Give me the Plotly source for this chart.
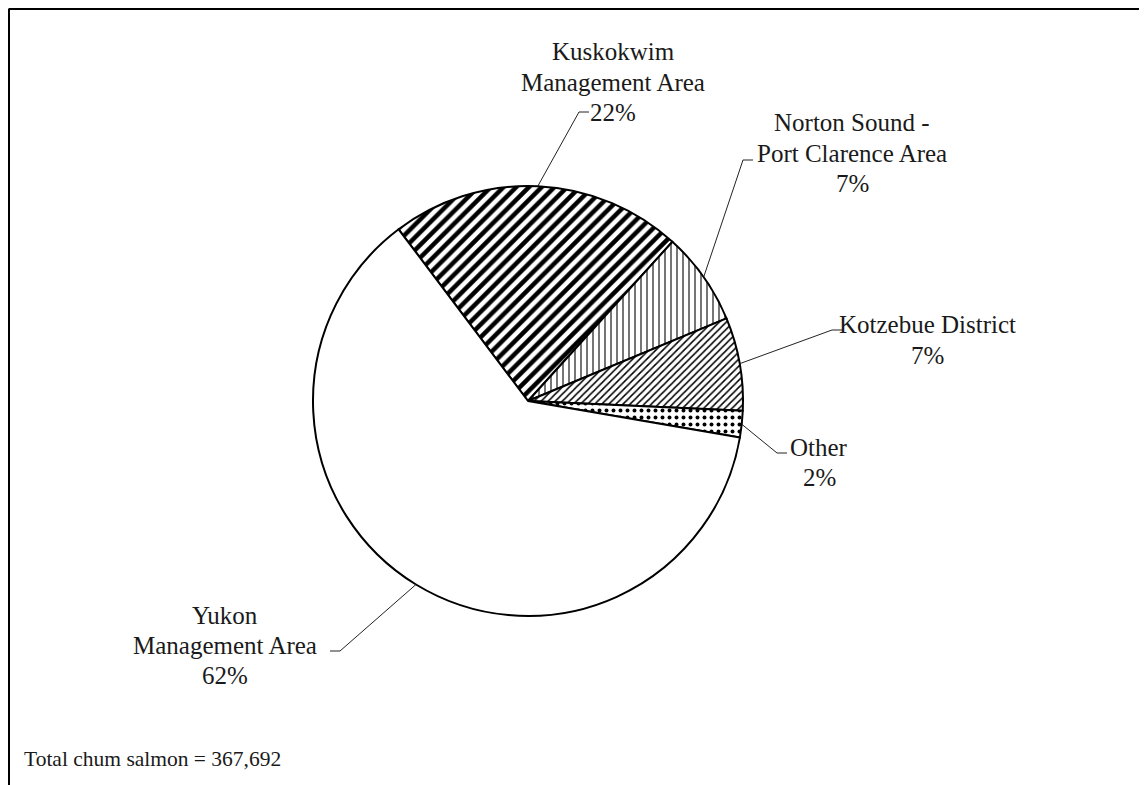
import math
import plotly.graph_objects as go

# ---------------- data ----------------
categories = ["Kuskokwim Management Area", "Norton Sound - Port Clarence Area",
              "Kotzebue District", "Other", "Yukon Management Area"]
label_lines = [["Kuskokwim", "Management Area"],
               ["Norton Sound -", "Port Clarence Area"],
               ["Kotzebue District"],
               ["Other"],
               ["Yukon", "Management Area"]]
percents = [22, 7, 7, 2, 62]
total_text = "Total chum salmon = 367,692"

# ---------------- styles / layout ----------------
OFF = 8                            # page body margin in the browser
W, H = 1147 - OFF, 785 - OFF       # figure size so it fits the window
CX, CY, R = 528, 401, 215          # pie centre and radius (page px)
ROTATION = -37                     # start of first slice, clockwise from 12 o'clock
FONT = "Liberation Serif, Times New Roman, serif"
LABEL_SIZE = 25
LINE_GAP = 30

pattern_shapes = ["/", "|", "/", ".", ""]
pattern_sizes = [9, 6, 5, 7, 8]
pattern_solid = [0.5, 0.18, 0.3, 0.25, 0.2]

# label layout: first-line centre (page px), elbow of leader (page px), tail direction
label_first = [(613, 52), (852, 123), (927, 325), (819, 447), (225, 615)]
elbows = [(579, 112), (743, 160), (832, 330), (777, 453), (340, 651)]
tail_dir = [1, 1, 1, 1, -1]
TAIL = 10


def px(x, y):
    return (x - OFF) / W, 1 - (y - OFF) / H


fig = go.Figure()
fig.add_trace(go.Pie(
    labels=categories,
    values=percents,
    sort=False,
    direction="clockwise",
    rotation=ROTATION,
    textinfo="none",
    hoverinfo="label+percent",
    showlegend=False,
    marker=dict(
        colors=["white"] * len(categories),
        line=dict(color="black", width=2),
        pattern=dict(shape=pattern_shapes, size=pattern_sizes,
                     solidity=pattern_solid, fgcolor="black",
                     bgcolor="white", fillmode="replace"),
    ),
    domain=dict(x=[px(CX - R, 0)[0], px(CX + R, 0)[0]],
                y=[px(0, CY + R)[1], px(0, CY - R)[1]]),
))

annotations = []
shapes = []
tot = sum(percents)
start = 90 - ROTATION
cum = 0
for i, (lines, pct) in enumerate(zip(label_lines, percents)):
    mid = math.radians(start - (cum + pct / 2) / tot * 360)
    cum += pct
    ax_, ay_ = CX + R * math.cos(mid), CY - R * math.sin(mid)
    ex, ey = elbows[i]
    tx = ex + tail_dir[i] * TAIL
    p0 = px(ax_, ay_)
    p1 = px(ex, ey)
    p2 = px(tx, ey)
    shapes.append(dict(type="path", xref="paper", yref="paper",
                       path=f"M {p0[0]},{p0[1]} L {p1[0]},{p1[1]} L {p2[0]},{p2[1]}",
                       line=dict(color="#222", width=1)))
    all_lines = lines + [f"{pct}%"]
    fx, fy = label_first[i]
    for j, t in enumerate(all_lines):
        x, y = px(fx, fy + j * LINE_GAP)
        annotations.append(dict(text=t, x=x, y=y, xref="paper", yref="paper",
                                xanchor="center", yanchor="middle", showarrow=False,
                                font=dict(family=FONT, size=LABEL_SIZE, color="#1a1a1a")))

fx, fy = px(22, 759)
annotations.append(dict(text=total_text, x=fx, y=fy, xref="paper", yref="paper",
                        xanchor="left", yanchor="middle", showarrow=False,
                        font=dict(family=FONT, size=21.5, color="#1a1a1a")))

# frame (top and left edges)
shapes.append(dict(type="line", xref="paper", yref="paper",
                   x0=0.5 / W, y0=1 - 1 / H, x1=1, y1=1 - 1 / H,
                   line=dict(color="black", width=2)))
shapes.append(dict(type="line", xref="paper", yref="paper",
                   x0=1 / W, y0=1 - 1 / H, x1=1 / W, y1=0,
                   line=dict(color="black", width=2)))

fig.update_layout(
    width=W, height=H,
    margin=dict(l=0, r=0, t=0, b=0),
    paper_bgcolor="white", plot_bgcolor="white",
    annotations=annotations, shapes=shapes,
    font=dict(family=FONT),
)

fig.write_html("out.html")
